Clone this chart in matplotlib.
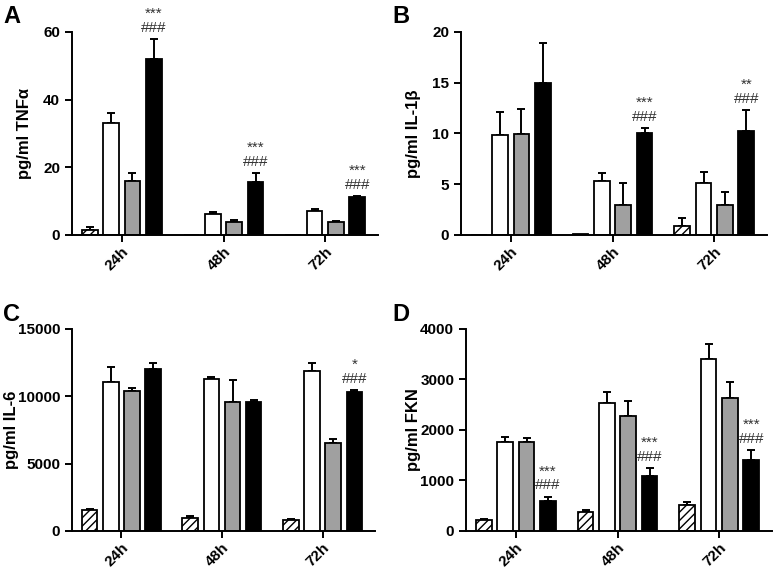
"""Four-panel cytokine bar chart (TNFa, IL-1b, IL-6, FKN) at 24/48/72 h."""

import matplotlib
matplotlib.use("Agg")
import matplotlib.pyplot as plt
import numpy as np

plt.rcParams["font.family"] = ["Liberation Sans", "DejaVu Sans"]
plt.rcParams["hatch.linewidth"] = 1.0

TIMES = ["24h", "48h", "72h"]

# rows = time point, columns = hatched, white, grey, black
TNF_MEAN = [[1.5, 33.0, 16.0, 52.0], [0.1, 6.2, 3.9, 15.8], [0.1, 7.0, 3.9, 11.3]]
TNF_ERR = [[0.8, 3.0, 2.2, 5.8], [0.0, 0.6, 0.4, 2.4], [0.0, 0.6, 0.2, 0.2]]
TNF_MARKS = ["***\n###", "***\n###", "***\n###"]

IL1B_MEAN = [[0.0, 9.8, 9.9, 15.0], [0.05, 5.3, 3.0, 10.0], [0.9, 5.1, 3.0, 10.2]]
IL1B_ERR = [[0.0, 2.3, 2.5, 3.9], [0.0, 0.8, 2.1, 0.5], [0.8, 1.1, 1.2, 2.1]]
IL1B_MARKS = ["", "***\n###", "**\n###"]

IL6_MEAN = [[1550, 11050, 10400, 12000], [1000, 11300, 9600, 9600], [850, 11850, 6500, 10300]]
IL6_ERR = [[100, 1100, 250, 500], [80, 100, 1600, 150], [50, 600, 300, 150]]
IL6_MARKS = ["", "", "*\n###"]

FKN_MEAN = [[210, 1760, 1770, 600], [380, 2530, 2280, 1080], [520, 3400, 2630, 1400]]
FKN_ERR = [[20, 100, 70, 80], [30, 220, 290, 160], [50, 300, 330, 200]]
FKN_MARKS = ["***\n###", "***\n###", "***\n###"]

# letter, y label, means, errors, marks, y max, y ticks, axes rect,
# y label right edge (px), panel left edge (px)
PANELS = [
    ("A", "pg/ml TNFα", TNF_MEAN, TNF_ERR, TNF_MARKS, 60, [0, 20, 40, 60],
     [0.0925, 0.587, 0.3935, 0.357], 32, 0),
    ("B", "pg/ml IL-1β", IL1B_MEAN, IL1B_ERR, IL1B_MARKS, 20, [0, 5, 10, 15, 20],
     [0.5925, 0.587, 0.3935, 0.357], 421, 389),
    ("C", "pg/ml IL-6", IL6_MEAN, IL6_ERR, IL6_MARKS, 15000, [0, 5000, 10000, 15000],
     [0.0925, 0.0668, 0.3895, 0.355], 19, 0),
    ("D", "pg/ml FKN", FKN_MEAN, FKN_ERR, FKN_MARKS, 4000, [0, 1000, 2000, 3000, 4000],
     [0.599, 0.0668, 0.3935, 0.355], 421, 389),
]

FILLS = ["white", "white", "#a0a0a0", "black"]
HATCHES = ["////", None, None, None]
STEP = 0.21
WIDTH = 0.155
FIG_W = 778

fig = plt.figure(figsize=(7.78, 5.69), dpi=100)

for letter, ylabel, means, errs, marks, ymax, yticks, rect, label_x, panel_x in PANELS:
    ax = fig.add_axes(rect)
    means = np.array(means, dtype=float)
    errs = np.array(errs, dtype=float)
    x = np.arange(len(TIMES))
    for j in range(4):
        pos = x + (j - 1.5) * STEP
        ax.bar(pos, means[:, j], width=WIDTH, color=FILLS[j], edgecolor="black",
               linewidth=1.3, hatch=HATCHES[j], zorder=2)
        has_err = errs[:, j] > 0
        ax.errorbar(pos[has_err], means[has_err, j],
                    yerr=[np.zeros(has_err.sum()), errs[has_err, j]],
                    fmt="none", ecolor="black", elinewidth=1.4, capsize=2.8,
                    capthick=1.4, zorder=1)
    for i, mark in enumerate(marks):
        if mark:
            top = means[i, 3] + errs[i, 3]
            ax.annotate(mark, (x[i] + 1.5 * STEP, top), xytext=(0, 3),
                        textcoords="offset points", ha="center", va="bottom",
                        fontsize=11, color="#333333", linespacing=1.0)

    ax.set_xlim(-0.49, 2.52)
    ax.set_ylim(0, ymax)
    ax.set_yticks(yticks)
    ax.set_xticks(x)
    ax.set_xticklabels(TIMES, rotation=45, ha="right", rotation_mode="anchor",
                       fontsize=11, fontweight="bold")
    for lab in ax.get_yticklabels():
        lab.set_fontsize(11)
        lab.set_fontweight("bold")
    ax.set_ylabel(ylabel, fontsize=12, fontweight="bold")
    # place the y label at a fixed pixel column
    ax_left_px = rect[0] * FIG_W
    ax_w_px = rect[2] * FIG_W
    ax.yaxis.set_label_coords((label_x - ax_left_px) / ax_w_px, 0.5)
    ax.spines["top"].set_visible(False)
    ax.spines["right"].set_visible(False)
    ax.spines["left"].set_linewidth(1.4)
    ax.spines["bottom"].set_linewidth(1.4)
    ax.tick_params(axis="both", width=1.4, length=5, direction="out")
    ax.tick_params(axis="x", pad=2)
    ax.text((panel_x + 3 - ax_left_px) / ax_w_px, 1.13, letter, transform=ax.transAxes,
            fontsize=17, fontweight="bold", ha="left", va="top")

fig.savefig("out.png", dpi=100)
